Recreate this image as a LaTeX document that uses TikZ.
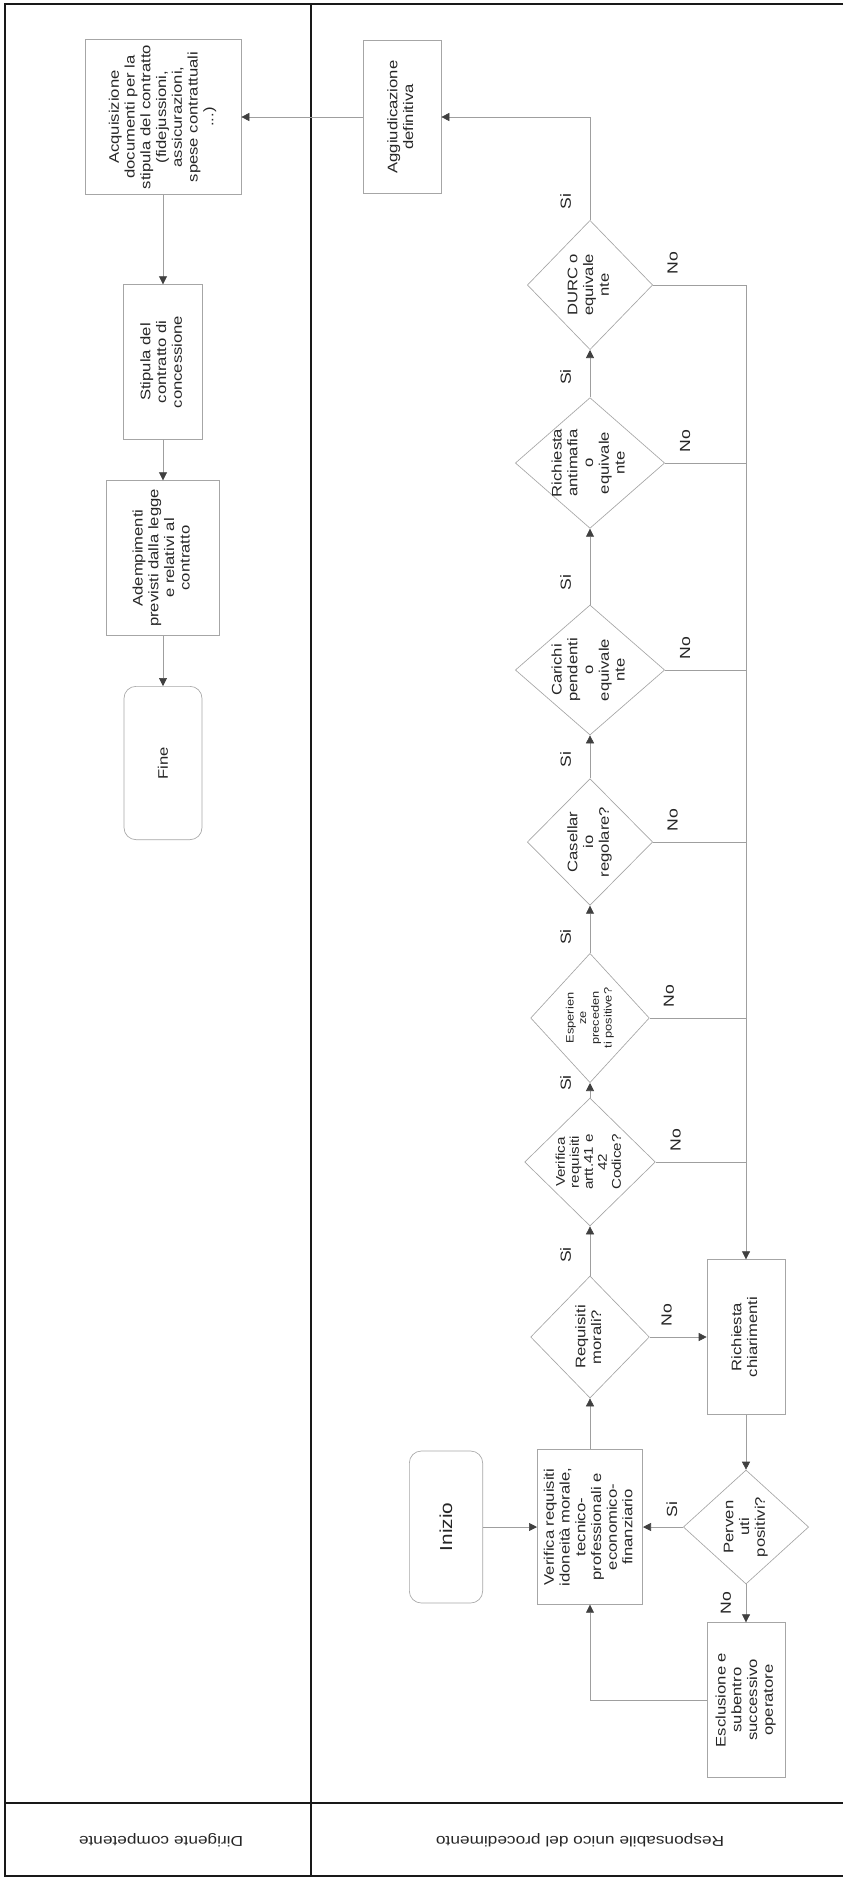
\documentclass[tikz,border=0pt]{standalone}
\usepackage{fontspec}
\setmainfont{Liberation Sans}[FakeStretch=1.2]
\usepackage{graphicx}
\usepackage{tikz}
\usetikzlibrary{shapes.geometric,arrows.meta}

\newcommand{\vlines}[1]{\rotatebox{90}{\begin{tabular}{@{}c@{}}#1\end{tabular}}}
\newcommand{\vword}[1]{\rotatebox{90}{#1}}
\newcommand{\boxfont}{\fontsize{10.4}{11.8}\selectfont}

\begin{document}
\begin{tikzpicture}[
    x=0.75pt, y=-0.75pt,
    lane/.style={line width=1.8pt, black!90},
    box/.style={
        draw=gray!70,
        line width=0.5pt,
        inner sep=1pt,
        text=black!85,
        font=\boxfont
    },
    terminal/.style={box, rounded corners=9pt},
    decision/.style={box, diamond, inner sep=-8pt},
    flow/.style={-{Triangle[length=6pt, width=6pt, color=black!75]}, draw=gray!75, line width=0.5pt},
    link/.style={draw=gray!75, line width=0.5pt},
    answer/.style={inner sep=2pt, text=black!85, font=\fontsize{11}{13}\selectfont},
    lanelabel/.style={rotate=180, text=black!85, font=\fontsize{10.8}{13}\selectfont}
]

\useasboundingbox (0,0) rectangle (843,1881);

% swimlanes
\draw[lane] (843,4) -- (5,4) -- (5,1876) -- (843,1876);
\draw[lane] (5,1803) -- (843,1803);
\draw[lane] (311,4) -- (311,1876);

\node[lanelabel] (dirigente) at (161,1840) {Dirigente competente};
\node[lanelabel] (rup) at (580,1840) {Responsabile unico del procedimento};

% Responsabile unico del procedimento
\node[terminal, minimum width=55pt, minimum height=114pt, font=\fontsize{13}{15}\selectfont] (inizio) at (446,1527) {\vword{Inizio}};
\node[box, minimum width=79pt, minimum height=116pt] (verif) at (590,1527)
    {\vlines{Verifica requisiti\\idoneità morale,\\tecnico-\\professionali e\\economico-\\finanziario}};
\node[decision, minimum width=89pt, minimum height=91.5pt] (morali) at (590,1337) {\vlines{Requisiti\\morali?}};
\node[decision, minimum width=98pt, minimum height=96pt, font=\fontsize{9.5}{10.5}\selectfont] (artt) at (590,1162)
    {\vlines{Verifica\\requisiti\\artt.41 e\\42\\Codice?}};
\node[decision, minimum width=89pt, minimum height=97pt, font=\fontsize{8}{9.5}\selectfont] (esper) at (590,1018)
    {\vlines{Esperien\\ze\\preceden\\ti positive?}};
\node[decision, minimum width=94pt, minimum height=95pt] (casell) at (590,842) {\vlines{Casellar\\io\\regolare?}};
\node[decision, minimum width=112pt, minimum height=97.5pt] (carichi) at (590,670) {\vlines{Carichi\\pendenti\\o\\equivale\\nte}};
\node[decision, minimum width=112pt, minimum height=98pt] (antimafia) at (590,463) {\vlines{Richiesta\\antimafia\\o\\equivale\\nte}};
\node[decision, minimum width=94pt, minimum height=97pt] (durc) at (590,285) {\vlines{DURC o\\equivale\\nte}};
\node[box, minimum width=58.5pt, minimum height=115pt] (aggiud) at (402,117) {\vlines{Aggiudicazione\\definitiva}};

\node[box, minimum width=58.5pt, minimum height=116pt] (chiar) at (746,1337) {\vlines{Richiesta\\chiarimenti}};
\node[decision, minimum width=94pt, minimum height=85.5pt] (perven) at (746,1527) {\vlines{Perven\\uti\\positivi?}};
\node[box, minimum width=58.5pt, minimum height=116pt] (escl) at (746,1700)
    {\vlines{Esclusione e\\subentro\\successivo\\operatore}};

% Dirigente competente
\node[box, minimum width=117pt, minimum height=116pt] (acq) at (163,117)
    {\vlines{Acquisizione\\documenti per la\\stipula del contratto\\(fidejussioni,\\assicurazioni,\\spese contrattuali\\...)}};
\node[box, minimum width=59pt, minimum height=116pt] (stipula) at (163,362) {\vlines{Stipula del\\contratto di\\concessione}};
\node[box, minimum width=85pt, minimum height=116pt] (adem) at (163,558)
    {\vlines{Adempimenti\\previsti dalla legge\\e relativi al\\contratto}};
\node[terminal, minimum width=58.5pt, minimum height=115pt] (fine) at (163,763) {\vword{Fine}};

% main sequence
\draw[flow] (inizio.east) -- (verif.west);
\draw[flow] (verif.north) -- (morali.south);
\draw[flow] (morali.north) -- node[answer, left=12pt, pos=0.42] {\vword{Si}} (artt.south);
\draw[flow] (artt.north) -- node[answer, left=12pt, pos=1] {\vword{Si}} (esper.south);
\draw[flow] (esper.north) -- node[answer, left=12pt, pos=0.34] {\vword{Si}} (casell.south);
\draw[flow] (casell.north) -- node[answer, left=12pt, pos=0.43] {\vword{Si}} (carichi.south);
\draw[flow] (carichi.north) -- node[answer, left=12pt, pos=0.29] {\vword{Si}} (antimafia.south);
\draw[flow] (antimafia.north) -- node[answer, left=12pt, pos=0.43] {\vword{Si}} (durc.south);
\draw[flow] (durc.north) |- node[answer, left=12pt, pos=0.09] {\vword{Si}} (aggiud.east);
\draw[flow] (aggiud.west) -- (acq.east);
\draw[flow] (acq.south) -- (stipula.north);
\draw[flow] (stipula.south) -- (adem.north);
\draw[flow] (adem.south) -- (fine.north);

% negative answers
\coordinate (bus) at (durc.east -| chiar.north);
\draw[link] (durc.east) -- node[answer, above=6pt, pos=0.21] {\vword{No}} (bus);
\draw[link] (antimafia.east) -- node[answer, above=6pt, pos=0.25] {\vword{No}} (antimafia.east -| bus);
\draw[link] (carichi.east) -- node[answer, above=6pt, pos=0.25] {\vword{No}} (carichi.east -| bus);
\draw[link] (casell.east) -- node[answer, above=6pt, pos=0.21] {\vword{No}} (casell.east -| bus);
\draw[link] (esper.east) -- node[answer, above=6pt, pos=0.2] {\vword{No}} (esper.east -| bus);
\draw[link] (artt.east) -- node[answer, above=6pt, pos=0.22] {\vword{No}} (artt.east -| bus);
\draw[flow] (bus) -- (chiar.north);
\draw[flow] (morali.east) -- node[answer, above=6pt, pos=0.3] {\vword{No}} (chiar.west);

\draw[flow] (chiar.south) -- (perven.north);
\draw[flow] (perven.west) -- node[answer, above=5pt, pos=0.28] {\vword{Si}} (verif.east);
\draw[flow] (perven.south) -- node[answer, left=9pt] {\vword{No}} (escl.north);
\draw[flow] (escl.west) -| (verif.south);

\end{tikzpicture}
\end{document}
